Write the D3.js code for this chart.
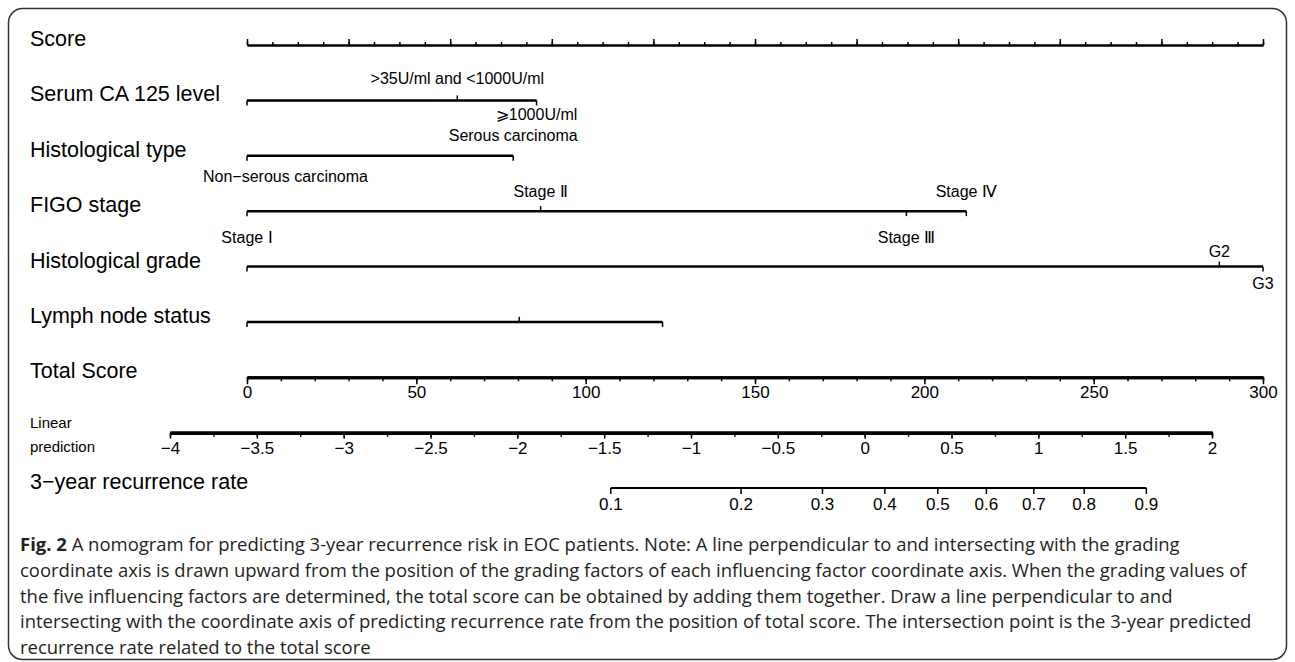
<!DOCTYPE html>
<html>
<head>
<meta charset="utf-8">
<script src="https://cdn.jsdelivr.net/npm/d3@7"></script>
<style>
  body { margin: 0; background: #fff; }
  text { font-family: "Liberation Sans", Arial, sans-serif; fill: #000; }
  .caption { font-family: "Open Sans", sans-serif; fill: #231f20; }
</style>
</head>
<body>
<div class="chart"></div>
<script>
var svgWidth = 1295;
var svgHeight = 662;

// nomogram rows, top to bottom
var rowNames = ["Score", "Serum CA 125 level", "Histological type", "FIGO stage",
  "Histological grade", "Lymph node status", "Total Score", "Linear prediction",
  "3\u2212year recurrence rate"];

// points for each level of each factor
var serumLevels = ["", ">35U/ml and <1000U/ml", "\u2a7e1000U/ml"];
var serumPoints = [0, 20.7, 28.5];
var typeLevels = ["Non\u2212serous carcinoma", "Serous carcinoma"];
var typePoints = [0, 26.2];
var stageLevels = ["Stage \u2160", "Stage \u2161", "Stage \u2162", "Stage \u2163"];
var stagePoints = [0, 28.9, 64.9, 70.8];
var gradeLevels = ["", "G2", "G3"];
var gradePoints = [0, 95.7, 100];
var lymphLevels = ["", "", ""];
var lymphPoints = [0, 26.8, 40.9];

// axis ticks
var scoreMinor = d3.range(0, 100.01, 2.5);
var scoreMajor = d3.range(0, 100.01, 10);
var totalMinor = d3.range(0, 300.01, 10);
var totalTicks = [0, 50, 100, 150, 200, 250, 300];
var lpMinor = d3.range(-4, 2.01, 0.25);
var lpTicks = [-4, -3.5, -3, -2.5, -2, -1.5, -1, -0.5, 0, 0.5, 1, 1.5, 2];
var rateTicks = [0.1, 0.2, 0.3, 0.4, 0.5, 0.6, 0.7, 0.8, 0.9];
// linear prediction value where each rate tick sits
var rateLP = [-1.462, -0.712, -0.243, 0.116, 0.421, 0.701, 0.974, 1.264, 1.622];

var captionLines = [
  " A nomogram for predicting 3-year recurrence risk in EOC patients. Note: A line perpendicular to and intersecting with the grading",
  "coordinate axis is drawn upward from the position of the grading factors of each influencing factor coordinate axis. When the grading values of",
  "the five influencing factors are determined, the total score can be obtained by adding them together. Draw a line perpendicular to and",
  "intersecting with the coordinate axis of predicting recurrence rate from the position of total score. The intersection point is the 3-year predicted",
  "recurrence rate related to the total score"
];

// label offsets above / below each factor line
var labelOffsets = {
  "Serum CA 125 level": [-16, 20],
  "Histological type": [-15, 26],
  "FIGO stage": [-14, 32],
  "Histological grade": [-10, 22],
  "Lymph node status": [-14, 22]
};

var factors = [
  { name: "Serum CA 125 level", levels: serumLevels, points: serumPoints },
  { name: "Histological type", levels: typeLevels, points: typePoints },
  { name: "FIGO stage", levels: stageLevels, points: stagePoints },
  { name: "Histological grade", levels: gradeLevels, points: gradePoints },
  { name: "Lymph node status", levels: lymphLevels, points: lymphPoints }
];

var svg = d3.select(".chart")
  .append("svg")
  .attr("width", svgWidth)
  .attr("height", svgHeight);

// frame
svg.append("rect")
  .attr("x", 8.5).attr("y", 8.5)
  .attr("width", 1278).attr("height", 651)
  .attr("rx", 14)
  .attr("fill", "none")
  .attr("stroke", "#333")
  .attr("stroke-width", 1.5);

var yRow = d3.scalePoint().domain(rowNames).range([45, 488]);
var xPoints = d3.scaleLinear().domain([0, 100]).range([247, 1263]);
var xTotal = d3.scaleLinear().domain([0, 300]).range([247, 1263]);
var xLP = d3.scaleLinear().domain([-4, 2]).range([170, 1212]);

// row titles
rowNames.forEach(function(name) {
  if (name === "Linear prediction") {
    svg.append("text").attr("x", 30).attr("y", yRow(name) - 5)
      .attr("font-size", 15).text("Linear");
    svg.append("text").attr("x", 30).attr("y", yRow(name) + 19)
      .attr("font-size", 15).text("prediction");
  } else {
    svg.append("text").attr("x", 30).attr("y", yRow(name) + 1)
      .attr("font-size", 21.5).text(name);
  }
});

function styleAxis(g, lineW, tickW) {
  g.select(".domain").attr("stroke", "#000").attr("stroke-width", lineW);
  g.selectAll(".tick line").attr("stroke", "#000").attr("stroke-width", tickW);
  g.selectAll(".tick text").attr("fill", "#000")
    .style("font-family", "'Liberation Sans', Arial, sans-serif").attr("font-size", 17);
}

// Score axis (ticks point up, no labels)
var scoreG = svg.append("g").attr("transform", `translate(0, ${yRow("Score")})`);
scoreG.append("g")
  .call(d3.axisTop(xPoints).tickValues(scoreMinor).tickSize(3).tickSizeOuter(0).tickFormat(""))
  .call(styleAxis, 2, 1.5);
scoreG.append("g")
  .call(d3.axisTop(xPoints).tickValues(scoreMajor).tickSize(6).tickSizeOuter(0).tickFormat(""))
  .call(styleAxis, 2, 1.5);

// factor lines
factors.forEach(function(f) {
  var y = yRow(f.name);
  var off = labelOffsets[f.name];
  var g = svg.append("g");
  var last = f.points.length - 1;

  g.append("line")
    .attr("x1", xPoints(d3.min(f.points))).attr("x2", xPoints(d3.max(f.points)))
    .attr("y1", y).attr("y2", y)
    .attr("stroke", "#000").attr("stroke-width", 2.5);

  g.selectAll(".lvtick")
    .data(f.points)
    .enter()
    .append("line")
    .attr("x1", d => xPoints(d)).attr("x2", d => xPoints(d))
    .attr("y1", y)
    .attr("y2", function(d, i) {
      if (i === 0 || i === last) return y + 5;
      var above = i % 2 === 1 && f.levels[i] !== "";
      return (above || f.levels[i] === "") ? y - 5 : y + 5;
    })
    .attr("stroke", "#000").attr("stroke-width", 1.5);

  g.selectAll(".lvlabel")
    .data(f.levels)
    .enter()
    .append("text")
    .attr("text-anchor", "middle")
    .attr("font-size", 16)
    .attr("x", (d, i) => xPoints(f.points[i]))
    .attr("y", (d, i) => y + (i % 2 === 1 ? off[0] : off[1]))
    .text(d => d)
    .each(function() {
      // keep labels from running past the left edge of the plot
      var w = this.getComputedTextLength();
      var x = +d3.select(this).attr("x");
      if (x - w / 2 < 203) d3.select(this).attr("x", 203 + w / 2);
    });
});

// Total Score axis
var totalG = svg.append("g").attr("transform", `translate(0, ${yRow("Total Score")})`);
totalG.append("g")
  .call(d3.axisBottom(xTotal).tickValues(totalMinor).tickSize(4).tickSizeOuter(0).tickFormat(""))
  .call(styleAxis, 3, 1.5);
totalG.append("g")
  .call(d3.axisBottom(xTotal).tickValues(totalTicks).tickSize(7).tickSizeOuter(0).tickPadding(2).tickFormat(d3.format("")))
  .call(styleAxis, 3, 1.5);

// Linear prediction axis
var lpG = svg.append("g").attr("transform", `translate(0, ${yRow("Linear prediction")})`);
lpG.append("g")
  .call(d3.axisBottom(xLP).tickValues(lpMinor).tickSize(4).tickSizeOuter(0).tickFormat(""))
  .call(styleAxis, 3.5, 1.5);
lpG.append("g")
  .call(d3.axisBottom(xLP).tickValues(lpTicks).tickSize(6).tickSizeOuter(0).tickPadding(3).tickFormat(d3.format("")))
  .call(styleAxis, 3.5, 1.5);

// 3-year recurrence rate axis, placed on the linear prediction scale
var rateX = d3.scaleOrdinal().domain(rateTicks).range(rateLP.map(xLP));
var rateG = svg.append("g").attr("transform", `translate(0, ${yRow("3\u2212year recurrence rate")})`);
rateG.append("line")
  .attr("x1", xLP(d3.min(rateLP))).attr("x2", xLP(d3.max(rateLP)))
  .attr("stroke", "#000").attr("stroke-width", 2);
var rt = rateG.selectAll(".rtick")
  .data(rateTicks)
  .enter()
  .append("g")
  .attr("transform", d => `translate(${rateX(d)},0)`);
rt.append("line").attr("y2", 6).attr("stroke", "#000").attr("stroke-width", 1.5);
rt.append("text")
  .attr("y", 22).attr("text-anchor", "middle").attr("font-size", 17)
  .text(d => d3.format("")(d));

// caption: size the font so the first line ends where it does in the figure
var caption = svg.append("g").attr("class", "caption-block");
var capLines = captionLines.map(function(line, i) {
  var t = caption.append("text")
    .attr("class", "caption")
    .attr("x", 20)
    .attr("y", 551 + i * 25.8)
    .attr("font-size", 17.5);
  if (i === 0) t.append("tspan").attr("font-weight", "bold").text("Fig. 2");
  t.append("tspan").text(line);
  return t;
});
var firstLen = capLines[0].node().getComputedTextLength();
var capSize = 17.5 * 1160 / firstLen;
capLines.forEach(t => t.attr("font-size", capSize));
</script>
</body>
</html>
